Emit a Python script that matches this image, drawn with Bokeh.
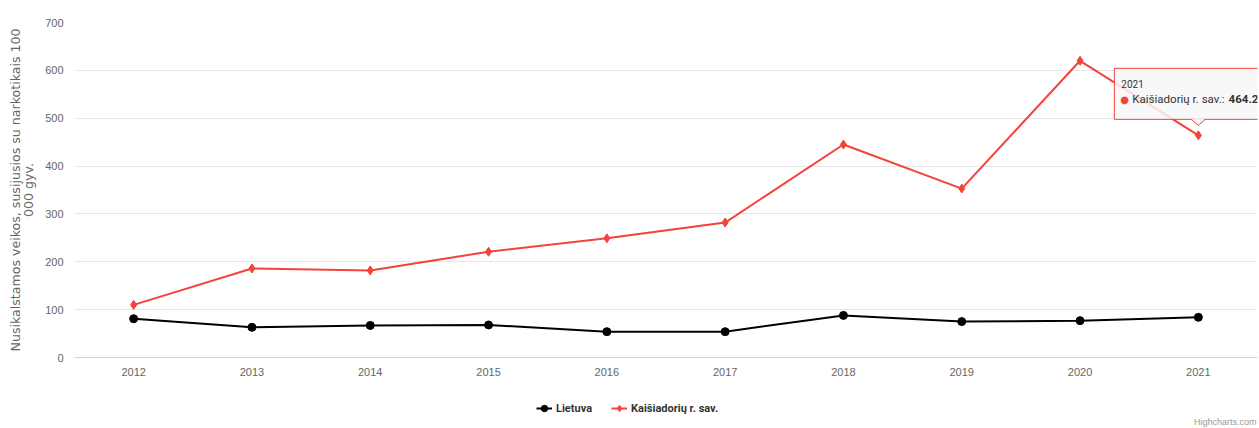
from bokeh.plotting import figure
from bokeh.layouts import column
from bokeh.models import FactorRange, Range1d, Legend, LegendItem, Label, ColumnDataSource, FixedTicker
from bokeh.embed import file_html
from bokeh.resources import INLINE

years = ["2012", "2013", "2014", "2015", "2016", "2017", "2018", "2019", "2020", "2021"]
lietuva = [81, 63, 67, 68, 54, 54, 88, 75, 77, 84]
kaisiadoriu = [110, 186, 182, 221, 249, 282, 445, 353, 620, 464.2]
y_ticks = [0, 100, 200, 300, 400, 500, 600, 700]
series_names = ["Lietuva", "Kaišiadorių r. sav."]
y_title = "Nusikalstamos veikos, susijusios su narkotikais 100\n000 gyv."

RED = "#f5423a"
W, H = 1259, 385
BL, BR, BT, BB = 74, 2, 22, 28
FW, FH = W - BL - BR, H - BT - BB
YMAX = 700
LH = 43

src = ColumnDataSource(dict(year=years, lt=lietuva, ks=kaisiadoriu))

p = figure(x_range=FactorRange(*years), y_range=Range1d(0, YMAX),
           width=W, height=H,
           min_border_left=BL, min_border_right=BR, min_border_top=BT, min_border_bottom=BB,
           output_backend="svg", toolbar_location=None)
p.outline_line_color = None
p.background_fill_color = "white"

# axes
p.yaxis.ticker = FixedTicker(ticks=y_ticks)
p.yaxis.axis_line_color = None
p.yaxis.major_tick_line_color = None
p.yaxis.minor_tick_line_color = None
p.yaxis.major_tick_out = 0
p.yaxis.major_tick_in = 0
p.yaxis.minor_tick_out = 0
p.yaxis.major_label_text_font = "Liberation Sans"
p.yaxis.major_label_text_font_size = "11px"
p.yaxis.major_label_text_color = "#666666"
p.yaxis.major_label_standoff = 11
p.yaxis.axis_label = y_title
p.yaxis.axis_label_text_font = "DejaVu Sans"
p.yaxis.axis_label_text_font_size = "12.6px"
p.yaxis.axis_label_text_line_height = 0.89
p.yaxis.axis_label_text_font_style = "normal"
p.yaxis.axis_label_text_color = "#666666"
p.yaxis.axis_label_standoff = 6

p.xaxis.axis_line_color = "#ccd6eb"
p.xaxis.major_tick_line_color = None
p.xaxis.minor_tick_line_color = None
p.xaxis.major_tick_out = 0
p.xaxis.major_tick_in = 0
p.xaxis.major_label_text_font = "Liberation Sans"
p.xaxis.major_label_text_font_size = "11px"
p.xaxis.major_label_text_color = "#666666"
p.xaxis.major_label_standoff = 10

p.xgrid.grid_line_color = None
p.ygrid.grid_line_color = "#e6e6e6"

# series
p.line(x="year", y="lt", source=src, line_color="black", line_width=2)
p.scatter(x="year", y="lt", source=src, marker="circle", size=8, fill_color="black", line_color="black")
p.line(x="year", y="ks", source=src, line_color=RED, line_width=2)
p.scatter(x="year", y="ks", source=src, marker="diamond", size=9, fill_color=RED, line_color=RED)

# tooltip (positioned relative to last data point, in pixels)
n = len(years)
ax = n - 0.5
ay = kaisiadoriu[-1]
px_x = FW / n
px_y = FH / YMAX

def dx(px):
    return ax + px / px_x

def dy(px):
    return ay + px / px_y

p.quad(left=[dx(-84)], right=[dx(70)], top=[dy(67)], bottom=[dy(16)],
       fill_color="#f7f7f7", fill_alpha=0.85, line_color=RED, line_width=1)
p.patch(x=[dx(-7), dx(0), dx(7)], y=[dy(16.5), dy(10), dy(16.5)],
        fill_color="#f7f7f7", fill_alpha=0.95, line_color=None)
p.line(x=[dx(-7), dx(0), dx(7)], y=[dy(16), dy(10), dy(16)], line_color=RED, line_width=1)

p.add_layout(Label(x=dx(-77), y=dy(51), text="2021", text_font="Roboto",
                   text_font_size="10px", text_color="#333333", text_baseline="middle"))
p.add_layout(Label(x=dx(-78), y=dy(36), text="●", text_font="DejaVu Sans",
                   text_font_size="10px", text_color=RED, text_baseline="middle"))
p.add_layout(Label(x=dx(-66), y=dy(36), text=series_names[1] + ": ", text_font="Roboto",
                   text_font_size="11.5px", text_color="#333333", text_baseline="middle"))
p.add_layout(Label(x=dx(60), y=dy(36), text=f"{kaisiadoriu[-1]:.1f}", text_font="Roboto",
                   text_font_size="11.5px", text_font_style="bold", text_color="#333333",
                   text_baseline="middle", text_align="right"))

# legend strip below the chart (its frame is aligned with the chart's frame)
p2 = figure(width=W, height=LH, x_range=Range1d(0, FW), y_range=Range1d(0, LH),
            min_border=0, output_backend="svg", toolbar_location=None)
p2.axis.visible = False
p2.grid.visible = False
p2.outline_line_color = None
off = [-1000]
r1l = p2.line(x=off, y=off, line_color="black", line_width=2)
r1m = p2.scatter(x=off, y=off, marker="circle", size=8, fill_color="black", line_color="black")
r2l = p2.line(x=off, y=off, line_color=RED, line_width=2)
r2m = p2.scatter(x=off, y=off, marker="diamond", size=9, fill_color=RED, line_color=RED)
legend = Legend(items=[LegendItem(label=series_names[0], renderers=[r1l, r1m]),
                       LegendItem(label=series_names[1], renderers=[r2l, r2m])],
                orientation="horizontal", location=(462, 10),
                label_text_font="Roboto", label_text_font_style="bold",
                label_text_font_size="11px", label_text_color="#333333",
                glyph_width=16, label_standoff=4, spacing=19, border_line_color=None,
                background_fill_alpha=0, margin=0, padding=4)
p2.add_layout(legend)
p2.add_layout(Label(x=FW - 1, y=2, text="Highcharts.com", text_font="Liberation Sans",
                    text_font_size="9px", text_color="#999999", text_baseline="bottom",
                    text_align="right"))

open("out.html", "w").write(file_html(column(p, p2, spacing=0), INLINE))
